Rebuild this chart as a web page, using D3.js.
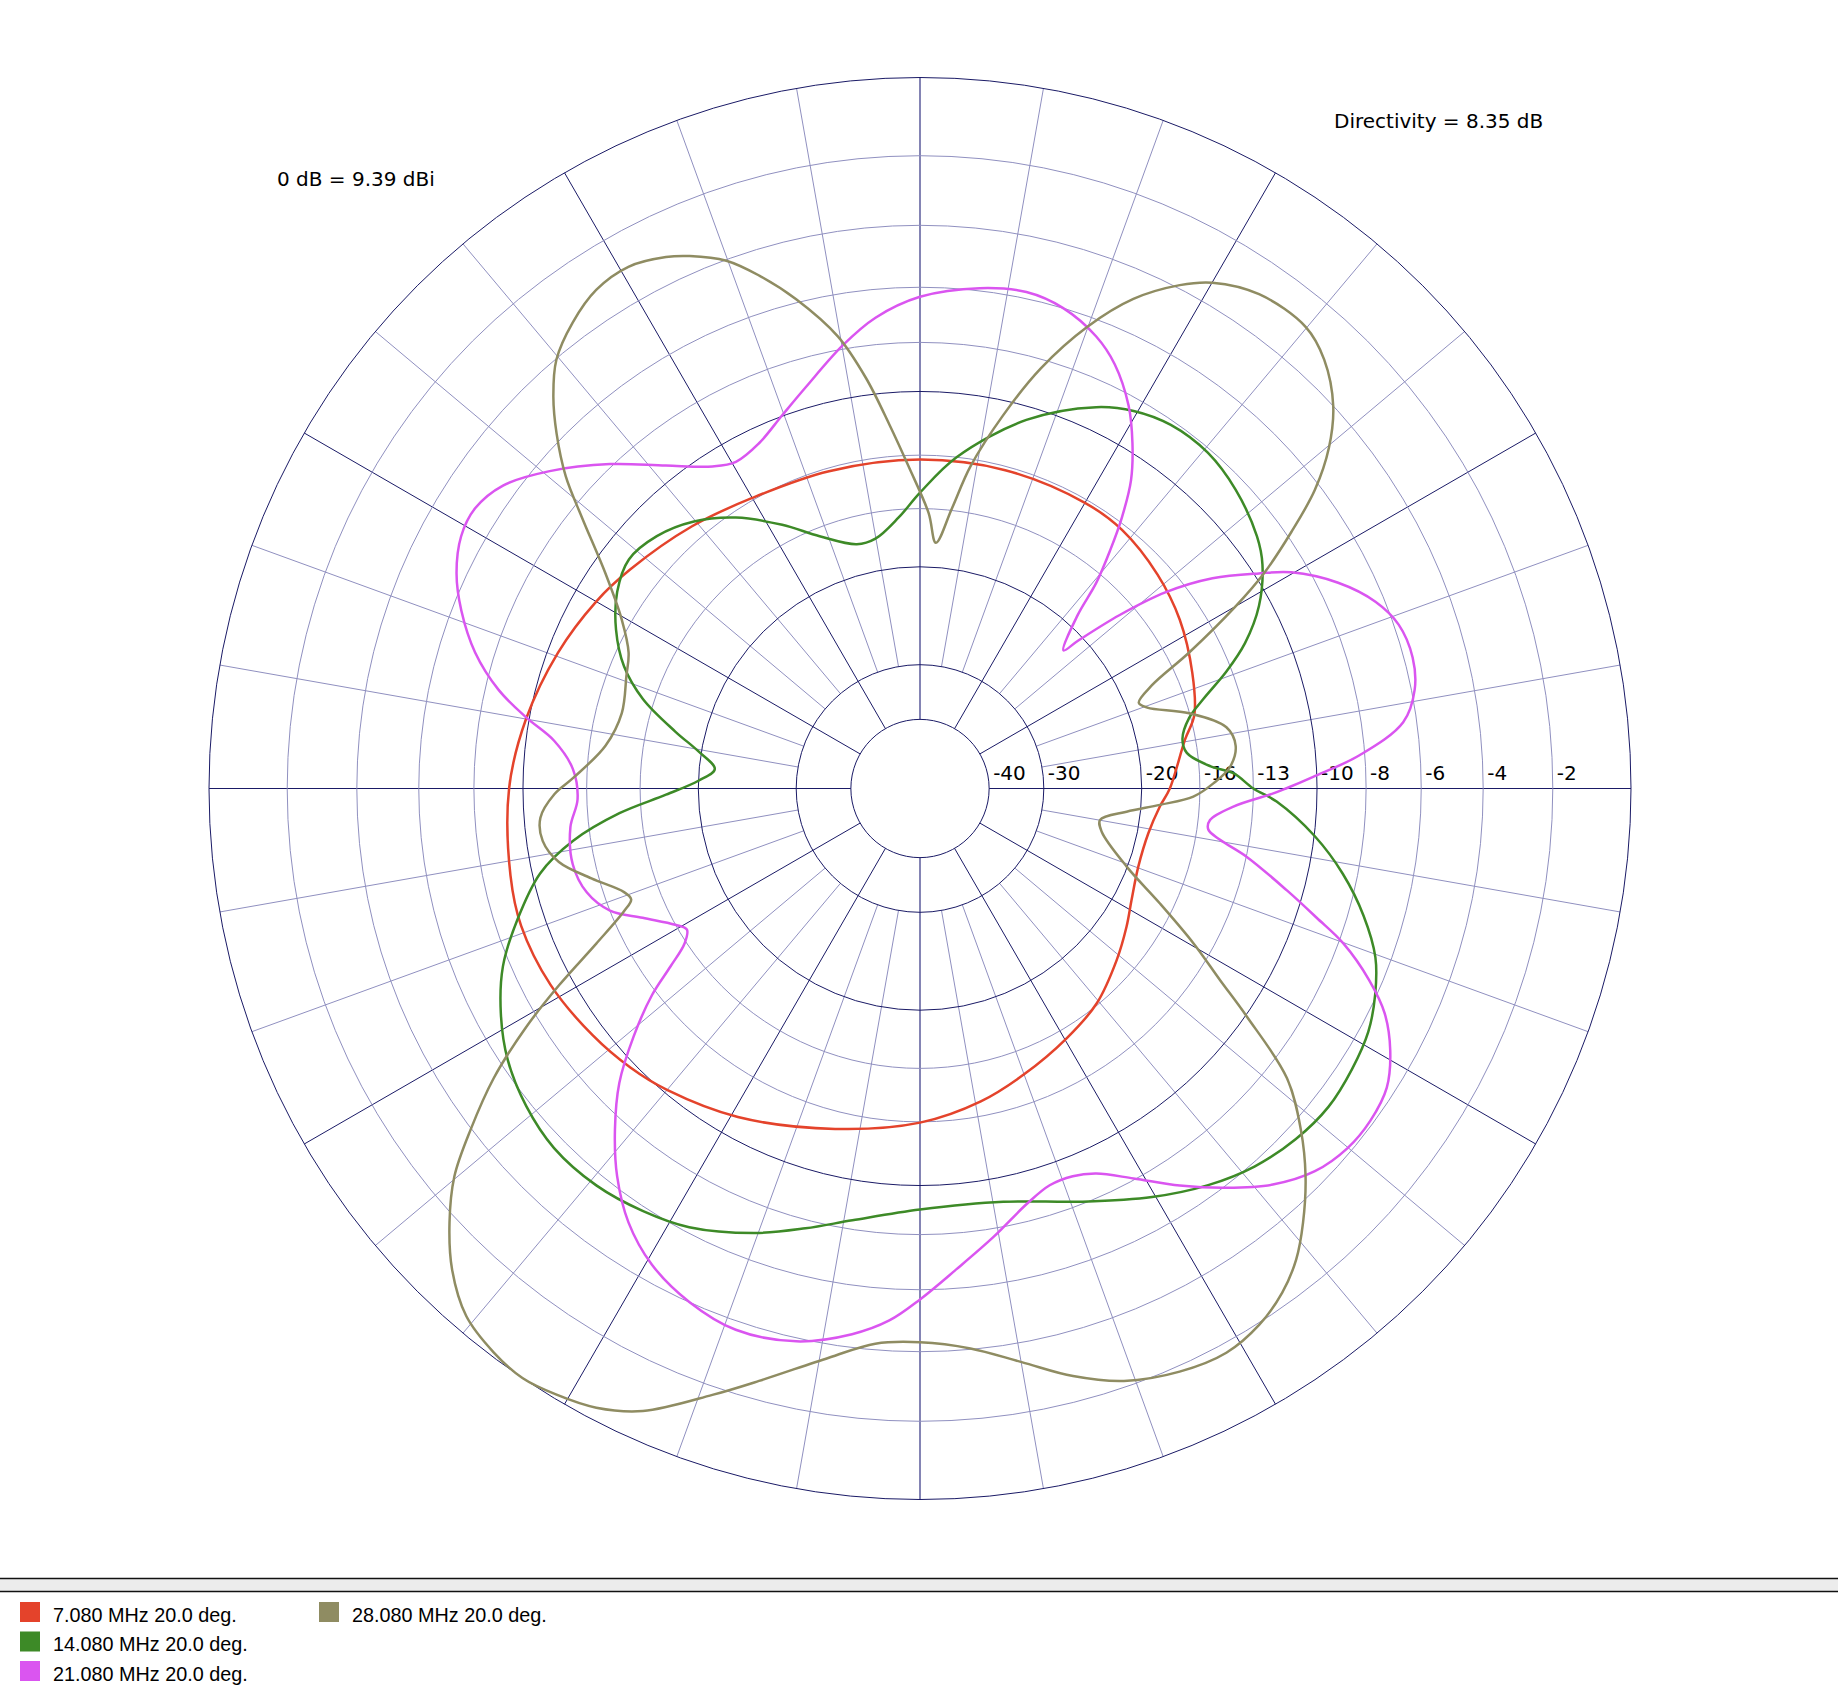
<!DOCTYPE html>
<html>
<head>
<meta charset="utf-8">
<script src="https://cdn.jsdelivr.net/npm/d3@7/dist/d3.min.js"></script>
<style>
  html, body { margin: 0; padding: 0; background: #ffffff; }
  svg { display: block; }
</style>
</head>
<body>
<svg id="chart" width="1838" height="1696"></svg>
<script>
// ---------------- DATA ----------------
const ringValues = [0, -2, -4, -6, -8, -10, -13, -16, -20, -30, -40];
const majorRings = [0, -10, -20, -30, -40];
const ringLabels = ["-40", "-30", "-20", "-16", "-13", "-10", "-8", "-6", "-4", "-2"];
const ringLabelValues = [-40, -30, -20, -16, -13, -10, -8, -6, -4, -2];

const seriesNames = ["7.080 MHz 20.0 deg.", "14.080 MHz 20.0 deg.", "21.080 MHz 20.0 deg.", "28.080 MHz 20.0 deg."];
const seriesColors = ["#e4432b", "#3d8a27", "#da55f0", "#8f8c62"];

const az7 = [0, 10.4, 15, 23, 33, 42, 52, 60, 75, 90, 106, 120, 131, 143, 150, 159.5, 170, 180, 192, 199, 208, 217, 224, 230, 241, 256, 270, 281, 290, 300.4, 309.4, 318.9, 326.2, 332.2, 340.3, 348.9, 355.7];
const db7 = [-17.95, -16.66, -15.75, -15.05, -14.26, -13.72, -13.27, -13.18, -13.2, -13.23, -13.17, -12.89, -12.29, -11.52, -11.03, -10.45, -9.87, -9.41, -9.09, -8.96, -9.1, -9.45, -9.78, -10.15, -10.95, -12.12, -12.96, -13.77, -14.57, -15.41, -16.1, -17.2, -18.04, -18.7, -19.23, -19.17, -18.6];

const az14 = [0, 2.8, 4.35, 7.6, 10.75, 14.7, 17.5, 20.9, 24.1, 28.3, 33.2, 36.8, 43.4, 49.4, 55.4, 60.5, 65.2, 73.9, 83.7, 90, 94.5, 100.1, 104.5, 111.7, 117.6, 124.2, 130.25, 136.2, 141.8, 147, 152.4, 157.6, 162.1, 166.9, 170.5, 174.6, 178, 181.4, 184.7, 188.6, 192.6, 198.1, 203.1, 208.2, 213.3, 218.9, 224.5, 230.8, 236.7, 242.25, 249.6, 255.4, 261.1, 270, 281.4, 291.4, 299.6, 306, 311.5, 317, 322.1, 327, 331.5, 335.6, 339.65, 344, 348.6, 353.1, 357.9];
const db14 = [-13.0, -14.04, -15.3, -16.67, -16.8, -16.1, -14.99, -13.28, -11.87, -10.53, -9.48, -9.0, -8.45, -8.15, -8.17, -8.48, -9.03, -10.59, -13.0, -15.05, -16.5, -17.68, -17.78, -16.52, -14.95, -13.3, -12.17, -11.46, -11.19, -11.63, -12.51, -13.7, -15.32, -17.85, -19.78, -21.25, -20.0, -17.66, -14.72, -12.11, -10.34, -8.88, -7.72, -6.9, -6.27, -5.84, -5.6, -5.63, -5.86, -6.19, -6.95, -7.68, -8.35, -8.99, -8.97, -8.09, -7.11, -6.38, -5.88, -5.57, -5.44, -5.53, -5.7, -6.05, -6.54, -7.42, -8.58, -9.97, -11.83];

const az21 = [0, 1.7, 4.35, 7.8, 11.3, 14.9, 18.9, 22.3, 26.2, 30.2, 32.4, 35.7, 38.6, 41.0, 43.1, 43.9, 47.7, 49.4, 51.4, 53.3, 55.6, 58.4, 61.4, 65.35, 68.7, 73.4, 77.9, 83.2, 90, 95.4, 99.9, 105.9, 110.3, 115.0, 119.4, 122.8, 128.2, 133.7, 139.4, 144.0, 147.8, 151.2, 155.1, 158.8, 163.0, 166.8, 169.8, 172.6, 176.8, 181.8, 186.3, 192.3, 197.3, 201.5, 205.0, 209.1, 211.2, 213.35, 215.5, 217.6, 220.9, 224.4, 228.2, 232.0, 236.1, 240.6, 245.8, 251.2, 257.4, 262.9, 266.7, 270, 274.35, 279.35, 284.4, 288.1, 291.5, 294.6, 298.7, 303.2, 307.5, 311.7, 315.9, 319.9, 323.6, 327.35, 330.9, 334.2, 336.9, 339.9, 341.95, 344.5, 348.2, 350.3, 351.9, 353.8, 356.7, 359.2];
const db21 = [-11.4, -10.16, -8.19, -6.47, -5.89, -5.71, -5.84, -6.31, -7.25, -8.64, -9.81, -11.67, -13.99, -17.0, -20.46, -21.84, -19.07, -16.57, -14.54, -12.78, -11.05, -9.64, -8.4, -7.22, -6.56, -6.0, -5.78, -5.91, -6.33, -7.0, -7.86, -9.15, -9.97, -10.71, -10.98, -10.61, -9.41, -7.9, -6.47, -5.52, -5.18, -5.25, -5.67, -6.32, -7.28, -8.51, -9.88, -11.27, -12.28, -12.53, -12.08, -11.9, -12.21, -13.01, -14.47, -15.98, -16.46, -15.88, -14.44, -12.76, -10.8, -9.0, -7.56, -6.32, -5.28, -4.52, -4.01, -3.74, -3.9, -4.41, -4.95, -5.67, -6.67, -7.69, -8.67, -9.14, -9.17, -8.89, -8.06, -6.94, -5.93, -5.03, -4.41, -4.14, -4.11, -4.27, -4.78, -5.5, -6.45, -7.82, -9.15, -10.73, -12.99, -14.56, -15.32, -15.29, -14.03, -12.0];

const az28 = [1.0, 4.0, 7.7, 11.3, 15.6, 19.6, 21.4, 24.0, 26.8, 30.0, 32.0, 34.65, 37.1, 39.8, 42.8, 46.7, 50.1, 55.55, 59.97, 62.7, 66.45, 70.1, 74.0, 77.45, 81.1, 83.5, 86.3, 88.2, 92, 94.8, 97.5, 100.3, 104.2, 107.4, 110.15, 113.4, 115.55, 119.2, 123.0, 126.7, 130.3, 133.1, 135.7, 138.6, 141.3, 145.65, 150.5, 155.0, 159.0, 165.8, 172.25, 178.3, 180.9, 184.4, 187.9, 191.5, 195.3, 199.3, 201.0, 202.5, 205.6, 208.6, 211.2, 214.2, 217.2, 219.8, 222.7, 225.8, 229.3, 232.9, 236.0, 239.0, 242.4, 246.0, 251.1, 254.8, 260.9, 265.4, 270, 275.15, 280.05, 284.6, 289.0, 294.0, 298.5, 302.3, 305.7, 308.6, 311.4, 314.85, 318.15, 321.7, 325.1, 327.45, 330.5, 334.4, 339.3, 346.6, 350.1, 353.6, 356.1, 358.3];
const db28 = [-15.19, -14.2, -13.78, -14.11, -16.02, -18.55, -19.0, -17.67, -14.72, -11.46, -9.65, -7.79, -6.21, -4.97, -4.0, -3.22, -2.87, -2.93, -3.37, -3.9, -4.91, -6.36, -8.37, -10.65, -13.38, -15.88, -18.2, -16.27, -13.6, -11.44, -9.28, -7.49, -5.88, -4.8, -4.03, -3.49, -3.23, -2.98, -3.07, -3.46, -4.03, -4.83, -5.78, -7.02, -8.51, -10.71, -12.53, -13.62, -14.0, -14.38, -13.84, -12.3, -11.41, -10.72, -10.71, -11.28, -12.63, -14.05, -14.28, -13.69, -11.73, -9.4, -7.46, -5.52, -3.97, -2.74, -1.8, -0.99, -0.37, -0.1, 0, -0.1, -0.3, -0.73, -1.78, -2.52, -3.6, -4.19, -4.29, -4.03, -3.42, -2.71, -2.17, -1.85, -1.75, -1.95, -2.33, -2.83, -3.52, -4.51, -5.66, -7.19, -9.94, -11.88, -14.02, -16.87, -20.06, -22.94, -23.31, -21.1, -18.6, -16.4];

const seriesAz = [az7, az14, az21, az28];
const seriesDb = [db7, db14, db21, db28];

const noteLeft = "0 dB = 9.39 dBi";
const noteRight = "Directivity = 8.35 dB";

// ---------------- LAYOUT ----------------
const W = 1838, H = 1696;
const cx = 920, cy = 788.5, R = 711;
const DARK = "#1a1a66", LIGHT = "#9090c0";
const FONT = "'DejaVu Sans', Verdana, sans-serif";

const svg = d3.select("#chart");
svg.append("rect").attr("width", W).attr("height", H).attr("fill", "#ffffff");

// ARRL-style log scale: each 2 dB step shrinks the radius by 0.89
const dbScale = d3.scaleLinear().domain([-40, 0]).range([Math.log(R * Math.pow(0.89, 20)), Math.log(R)]);
const rOf = d => Math.exp(dbScale(d));
const aScale = d3.scaleLinear().domain([0, 360]).range([Math.PI / 2, Math.PI / 2 - 2 * Math.PI]);

const g = svg.append("g").attr("transform", `translate(${cx},${cy})`);

// light spokes every 10°, dark spokes every 30°
const spokeAngles = d3.range(0, 360, 10);
const spokes = g.append("g");
spokeAngles.forEach(a => {
  const major = a % 30 === 0;
  const vertical = a === 90 || a === 270;
  const r0 = major ? rOf(-40) : rOf(-30);
  const ang = aScale(a);
  spokes.append("line")
    .attr("x1", r0 * Math.sin(ang)).attr("y1", -r0 * Math.cos(ang))
    .attr("x2", R * Math.sin(ang)).attr("y2", -R * Math.cos(ang))
    .attr("stroke", vertical ? "#8484b4" : (major ? DARK : LIGHT))
    .attr("stroke-width", vertical ? 2 : 1);
});

// rings
g.append("g").selectAll("circle").data(ringValues).join("circle")
  .attr("r", d => rOf(d))
  .attr("fill", "none")
  .attr("stroke", d => majorRings.includes(d) ? DARK : LIGHT)
  .attr("stroke-width", 1);

// ring labels
g.append("g").selectAll("text").data(ringLabelValues).join("text")
  .attr("x", d => rOf(d) + 4)
  .attr("y", -8.5)
  .attr("font-family", FONT).attr("font-size", 20).attr("fill", "#000")
  .text((d, i) => ringLabels[i]);

// pattern curves
const line = d3.lineRadial()
  .angle(d => aScale(d[0]))
  .radius(d => rOf(d[1]))
  .curve(d3.curveCatmullRomClosed.alpha(0.5));

seriesAz.forEach((az, i) => {
  const pts = az.map((a, k) => [a, seriesDb[i][k]]);
  g.append("path")
    .attr("d", line(pts))
    .attr("fill", "none")
    .attr("stroke", seriesColors[i])
    .attr("stroke-width", 2.5)
    .attr("stroke-linejoin", "round");
});

// annotations
svg.append("text").attr("x", 277).attr("y", 185.5)
  .attr("font-family", FONT).attr("font-size", 20).attr("fill", "#000").text(noteLeft);
svg.append("text").attr("x", 1334).attr("y", 128)
  .attr("font-family", FONT).attr("font-size", 20).attr("fill", "#000").text(noteRight);

// legend separator
svg.append("rect").attr("x", 0).attr("y", 1579).attr("width", W).attr("height", 12).attr("fill", "#ececec");
svg.append("line").attr("x1", 0).attr("x2", W).attr("y1", 1578.5).attr("y2", 1578.5).attr("stroke", "#111").attr("stroke-width", 1.3);
svg.append("line").attr("x1", 0).attr("x2", W).attr("y1", 1591.5).attr("y2", 1591.5).attr("stroke", "#111").attr("stroke-width", 1.3);

// legend
const legendPos = [[20, 0], [20, 1], [20, 2], [319, 0]];
const leg = svg.append("g");
seriesNames.forEach((name, i) => {
  const [x, row] = legendPos[i];
  const y = 1602 + row * 29.5;
  leg.append("rect").attr("x", x).attr("y", y).attr("width", 20).attr("height", 20).attr("fill", seriesColors[i]);
  leg.append("text").attr("x", x + 33).attr("y", y + 19.5)
    .attr("font-family", "'Liberation Sans', Arial, Helvetica, sans-serif")
    .attr("font-size", 19.8).attr("fill", "#000").text(name);
});
</script>
</body>
</html>
